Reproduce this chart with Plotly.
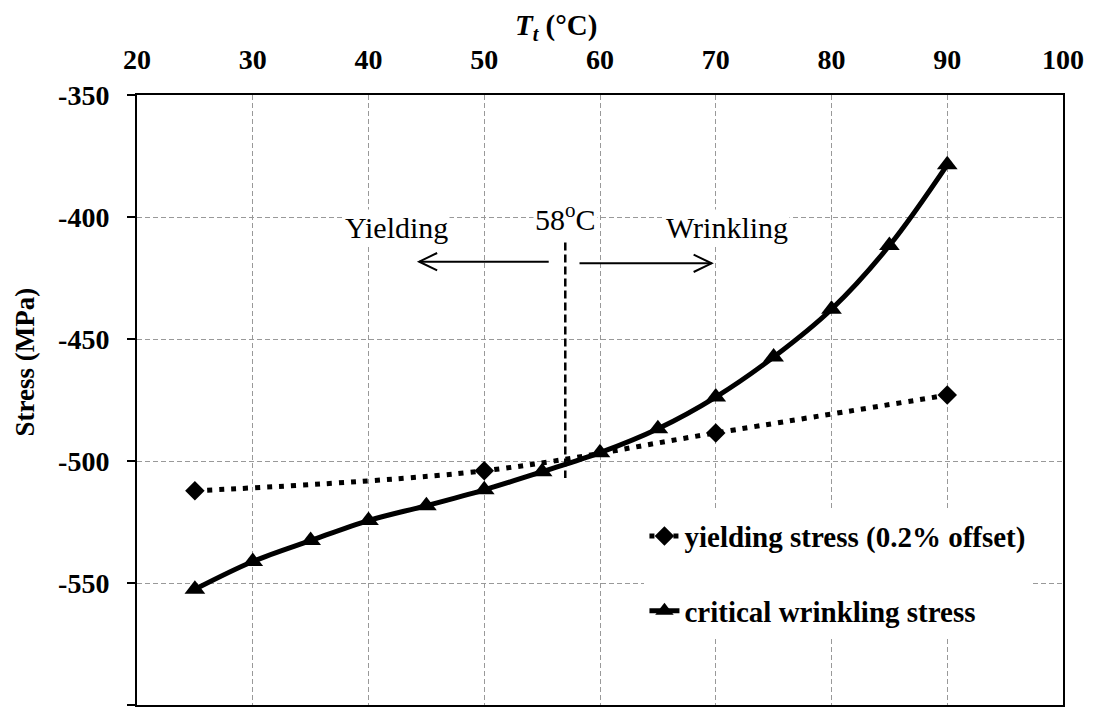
import plotly.graph_objects as go

# ---- data ----
T_crit = [25, 30, 35, 40, 45, 50, 55, 60, 65, 70, 75, 80, 85, 90]
crit_stress = [-552.6, -541.2, -532.6, -524.4, -518.3, -511.8, -504.4,
               -496.6, -486.8, -473.8, -457.4, -437.8, -411.7, -378.6]
T_yield = [25, 50, 70, 90]
yield_stress = [-512.2, -504.0, -488.5, -473.0]

x_ticks = [20, 30, 40, 50, 60, 70, 80, 90, 100]
y_ticks = [-600, -550, -500, -450, -400, -350]
y_tick_text = ["-600", "-550", "-500", "-450", "-400", "-350"]

T_trans = 57.0           # position of the dashed transition line
trans_top, trans_bot = -410.5, -507.0
arrow_y_left, arrow_y_right = -418.3, -419.0
left_arrow = (55.57, 44.38)
right_arrow = (58.23, 69.64)
head_dx, head_dy = 1.55, 3.55

SERIF = "Liberation Serif"

fig = go.Figure()

fig.add_trace(go.Scatter(
    x=T_yield, y=yield_stress, mode="lines+markers",
    name="yielding stress (0.2% offset)", legendgroup="a",
    line=dict(color="black", width=5, dash="5px,7px", shape="spline"),
    marker=dict(symbol="diamond", size=15, color="black"),
))
fig.add_trace(go.Scatter(
    x=T_crit, y=crit_stress, mode="lines+markers",
    name="critical wrinkling stress", legendgroup="b",
    line=dict(color="black", width=5, shape="spline", smoothing=1),
    marker=dict(symbol="triangle-up", size=18, color="black"),
))

shapes = []
# transition line
shapes.append(dict(type="line", xref="x", yref="y", x0=T_trans, x1=T_trans,
                   y0=trans_top, y1=trans_bot,
                   line=dict(color="black", width=2.5, dash="8px,4px")))
# left arrow
lx0, lx1 = left_arrow
shapes.append(dict(type="line", xref="x", yref="y", x0=lx0, x1=lx1,
                   y0=arrow_y_left, y1=arrow_y_left, line=dict(color="black", width=2)))
shapes.append(dict(type="path", xref="x", yref="y",
                   path=f"M {lx1+head_dx} {arrow_y_left+head_dy} L {lx1} {arrow_y_left} L {lx1+head_dx} {arrow_y_left-head_dy}",
                   line=dict(color="black", width=2)))
# right arrow
rx0, rx1 = right_arrow
shapes.append(dict(type="line", xref="x", yref="y", x0=rx0, x1=rx1,
                   y0=arrow_y_right, y1=arrow_y_right, line=dict(color="black", width=2)))
shapes.append(dict(type="path", xref="x", yref="y",
                   path=f"M {rx1-head_dx} {arrow_y_right+head_dy} L {rx1} {arrow_y_right} L {rx1-head_dx} {arrow_y_right-head_dy}",
                   line=dict(color="black", width=2)))

annotations = [
    dict(x=42.39, y=-404.1, xref="x", yref="y", text="Yielding", showarrow=False,
         xanchor="center", yanchor="middle",
         font=dict(family=SERIF, size=30, color="black"), bgcolor="white"),
    dict(x=57.05, y=-400.0, xref="x", yref="y", text="58<sup>o</sup>C", showarrow=False,
         xanchor="center", yanchor="middle",
         font=dict(family=SERIF, size=30, color="black"), bgcolor="white"),
    dict(x=70.99, y=-404.1, xref="x", yref="y", text="Wrinkling", showarrow=False,
         xanchor="center", yanchor="middle",
         font=dict(family=SERIF, size=30, color="black"), bgcolor="white"),
    dict(x=0.452, y=1.111, xref="paper", yref="paper",
         text="<i>T<sub>t</sub></i> (°C)", showarrow=False,
         xanchor="center", yanchor="middle",
         font=dict(family=SERIF, size=29, color="black", weight="bold")),
    dict(x=-0.1206, y=0.562, xref="paper", yref="paper", text="Stress (MPa)",
         textangle=-90, showarrow=False, xanchor="center", yanchor="middle",
         font=dict(family=SERIF, size=27, color="black", weight="bold")),
]

fig.update_layout(
    width=1096, height=719,
    margin=dict(l=137, r=30, t=95, b=12),
    paper_bgcolor="white", plot_bgcolor="white",
    showlegend=True,
    legend=dict(x=0.548, y=0.3186, xanchor="left", yanchor="top",
                bgcolor="white", borderwidth=0,
                font=dict(family=SERIF, size=29, color="black", weight="bold"),
                traceorder="grouped", tracegroupgap=34),
    shapes=shapes, annotations=annotations,
)

fig.update_xaxes(
    range=[20, 100], tickvals=x_ticks, side="top",
    showgrid=True, gridcolor="#999999", griddash="5px,3px", gridwidth=1,
    showline=True, linecolor="black", linewidth=2, mirror=True,
    ticks="", ticklabelstandoff=13, zeroline=False,
    tickfont=dict(family=SERIF, size=28, color="black", weight="bold"),
)
fig.update_yaxes(
    range=[-600, -350], tickvals=y_ticks, ticktext=y_tick_text,
    showgrid=True, gridcolor="#999999", griddash="5px,3px", gridwidth=1,
    showline=True, linecolor="black", linewidth=2, mirror=True,
    ticks="outside", ticklen=8, tickcolor="black", tickwidth=1.5,
    ticklabelstandoff=12, zeroline=False,
    tickfont=dict(family=SERIF, size=28, color="black", weight="bold"),
)

fig.write_html("out.html")
